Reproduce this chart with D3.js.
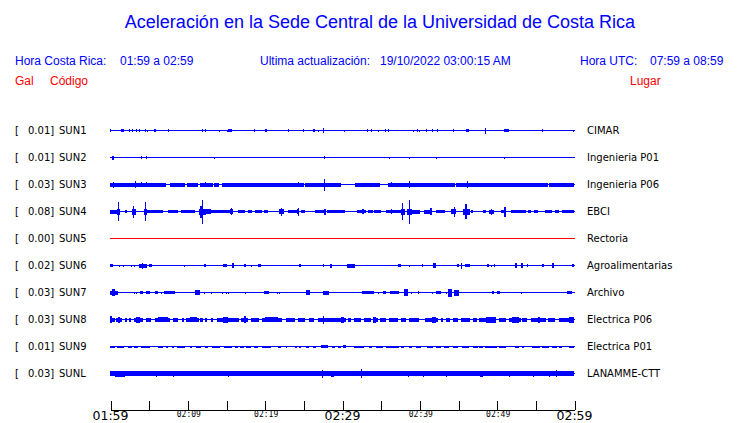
<!DOCTYPE html>
<html><head><meta charset="utf-8">
<script src="https://cdn.jsdelivr.net/npm/d3@7"></script>
<style>
html,body{margin:0;padding:0;background:#fff;}
svg{display:block;}
</style></head>
<body>
<svg id="chart" width="740" height="423"></svg>
<script>
// ---------------- DATA ----------------
const title = "Aceleración en la Sede Central de la Universidad de Costa Rica";
const localRange = "01:59 a 02:59";
const utcRange = "07:59 a 08:59";
const updated = "19/10/2022 03:00:15 AM";

const codes = ["SUN1","SUN2","SUN3","SUN4","SUN5","SUN6","SUN7","SUN8","SUN9","SUNL"];
const places = ["CIMAR","Ingenieria P01","Ingenieria P06","EBCI","Rectoria","Agroalimentarias","Archivo","Electrica P06","Electrica P01","LANAMME-CTT"];
const peakGal = [0.01,0.01,0.03,0.08,0.00,0.02,0.03,0.03,0.01,0.03];

// time axis: minutes after 01:59
const tickMinutes = [0,5,10,15,20,25,30,35,40,45,50,55,60];
const majorLabels = [[0,"01:59"],[30,"02:29"],[60,"02:59"]];
const minorLabels = [[10,"02:09"],[20,"02:19"],[40,"02:39"],[50,"02:49"]];

// waveform envelopes: [start minute, end minute, half amplitude]
const sun1 = [[0.05,0.15,1.5],[1.4,1.8,1.5],[2.5,2.6,1.5],[2.9,3.0,1.5],[3.3,3.4,1.5],[3.7,3.8,1.5],[4.5,4.6,1.5],[4.8,4.9,1],[5.7,5.9,1.5],[7.5,7.6,1.5],[11.9,12.0,1.5],[12.3,12.4,1.5],[14.1,14.2,1],[15.1,15.2,1],[15.3,15.8,1.5],[18.6,18.7,1.5],[20.1,20.4,1.5],[23.0,23.1,1.5],[24.9,25.0,1.5],[26.2,26.5,1.5],[26.9,27.0,1],[27.6,27.7,2.5],[30.3,30.4,1],[33.2,33.3,1.5],[33.7,33.8,1.5],[34.6,34.7,1],[35.6,35.7,1.5],[35.9,36.0,1.5],[39.2,39.3,1],[39.7,39.8,1.5],[39.9,40.0,1],[40.8,40.9,1.5],[41.7,41.8,1.5],[42.3,42.4,1.5],[44.4,44.5,1.5],[46.0,46.4,1.5],[48.5,48.6,3],[50.9,51.6,1.5],[55.9,56.0,1.5],[59.9,60,1]];
const sun2 = [[0.2,0.4,2],[4.0,4.1,1.5],[4.6,4.7,1.5],[13.5,13.6,1],[27.7,27.8,1.5],[36.1,36.2,1],[38.7,38.8,1],[42.1,42.2,1],[51.0,51.1,1]];
const sun3 = [[0,7.2,2],[7.7,9.6,2],[10.0,11.4,2],[11.6,13.3,2],[13.5,14.2,2],[14.5,25.1,2],[25.2,29.9,2],[31.7,34.9,2],[35.9,44.6,2],[44.7,56.6,2],[56.8,60,2],[0.35,0.5,3],[3.25,3.35,3.5],[4.0,4.1,2.5],[4.7,4.8,2.5],[12.3,12.4,2.5],[24.3,24.4,2.5],[27.65,27.75,6],[36.4,36.5,2.5],[38.7,38.8,3.5],[46.1,46.2,3.5]];
const sun4 = [[0.0,1.3,2],[0.9,1.3,3],[1.0,1.15,9.5],[2.0,2.3,1.5],[2.8,3.3,3],[2.95,3.1,6],[4.4,4.8,3],[4.5,4.65,9.5],[4.8,6.9,1.5],[7.5,8.8,1.5],[9.2,11.0,1.5],[11.5,12.4,3],[11.7,12.1,6],[11.85,12.0,12],[12.4,13.1,2.5],[13.1,15.5,1.5],[15.5,15.9,2.5],[15.65,15.75,3.5],[16.5,17.4,1.5],[17.8,18.3,1.5],[18.7,19.6,1.5],[19.9,20.4,1.5],[21.9,22.6,2.5],[22.1,22.2,4],[23.0,24.1,1.5],[24.2,24.5,2.5],[24.3,24.4,4],[24.7,25.2,1.5],[26.5,27.7,1.5],[27.7,27.9,3],[28.0,30.3,1.5],[32.0,33.1,1.5],[32.6,32.8,2.5],[33.3,34.0,1.5],[34.2,35.1,1.5],[35.7,37.6,1.5],[36.3,36.4,2.5],[37.6,38.1,3],[37.8,37.9,8.5],[38.4,39.0,3],[38.6,38.7,12],[39.0,40.0,2],[40.6,41.5,2],[41.4,41.6,3.5],[42.2,43.4,1.5],[44.1,44.7,2.5],[44.5,44.6,5],[45.6,46.5,3],[45.9,46.1,7.5],[46.7,46.9,1.5],[48.2,48.6,1.5],[49.0,49.7,2],[49.3,49.4,3],[50.5,51.0,1.5],[50.9,51.1,5],[51.8,53.8,1.5],[54.0,54.4,1.5],[54.8,55.3,1.5],[56.3,57.2,1.5],[57.6,58.1,1.5],[58.5,60,1.5]];
const sun5 = [];
const sun6 = [[0,0.4,1.5],[1.1,1.2,1],[1.7,1.8,1],[2.7,2.8,1],[3.1,3.2,1],[3.7,4.7,2],[4.1,4.2,3],[5.0,5.4,1.5],[9.6,9.7,1],[12.2,12.4,1.5],[14.6,15.1,1.5],[15.8,16.0,2.5],[17.3,17.6,1.5],[18.2,18.3,1],[19.2,19.6,1.5],[24.4,24.7,1.5],[27.6,27.7,1.5],[28.4,28.7,2],[30.6,31.6,2],[37.2,37.6,1.5],[38.7,38.8,1.2],[40.3,40.4,1.5],[41.8,42.2,2.5],[44.9,45.2,1.5],[45.4,45.5,3],[45.9,46.5,1.5],[48.7,48.9,1.5],[49.3,49.4,1],[49.7,49.8,1.5],[52.4,52.6,2.5],[53.1,53.3,2.5],[53.9,54.0,1.5],[55.8,56.1,1.5],[57.2,57.4,2.5],[59.7,60,1.5]];
const sun7 = [[0,1.0,2],[0.3,0.7,3.5],[3.1,3.2,1],[3.4,3.5,1],[3.9,4.3,1.5],[4.7,5.2,1.5],[5.8,6.2,1.5],[6.6,6.7,1],[7.0,8.4,1.5],[11.0,11.6,2.5],[12.2,12.3,1],[13.0,13.1,1],[14.5,14.6,1],[15.0,15.1,1],[15.3,15.4,1],[17.4,17.5,1],[19.9,20.6,1.5],[21.6,21.7,1],[21.9,22.0,1],[25.4,25.9,2.5],[27.5,28.3,2],[32.6,34.2,1.5],[34.7,34.8,1],[35.3,35.7,1.5],[36.2,37.4,1.5],[38.0,38.5,3.5],[38.9,39.0,1],[39.8,39.9,1.5],[41.6,41.7,1],[42.1,42.7,1.5],[43.4,43.5,1],[43.7,44.2,4],[44.5,45.1,3],[49.4,49.6,1.5],[50.1,50.5,1.5],[53.1,53.2,1],[59.1,59.8,1.5]];
const sun8 = [[0,0.6,2],[0.8,1.6,2],[1.9,2.2,2],[2.5,2.8,2],[3.1,4.2,2],[4.6,5.2,2],[5.8,7.7,2],[8.2,8.9,2],[9.3,9.6,2],[9.8,11.5,2],[11.7,12.1,2],[12.3,12.5,2],[13.0,13.2,2],[13.9,16.8,2],[17.0,17.9,2],[18.2,19.2,2],[19.6,22.2,2],[22.8,24.0,2],[24.3,25.2,2],[25.7,26.4,2],[26.9,30.5,2],[30.8,31.2,2],[31.6,32.5,2],[32.9,33.8,2],[34.0,34.6,2],[34.9,35.7,2],[36.1,37.2,2],[37.6,38.3,2],[38.7,40.0,2],[40.7,42.4,2],[42.8,43.0,2],[43.4,43.9,2],[44.3,45.0,2],[45.4,46.5,2],[46.9,47.4,2],[47.7,49.9,2],[50.3,51.2,2],[51.6,53.1,2],[53.3,54.0,2],[54.4,56.3,2],[56.7,57.6,2],[58.1,60,2],[0.05,0.25,3.5],[1.0,1.2,3],[3.4,3.9,3],[6.2,7.5,2.5],[10.3,11.2,2.5],[14.6,15.3,3],[17.3,17.5,3.5],[20.0,21.7,2.5],[27.6,27.75,4],[29.9,30.3,3],[34.0,34.4,3],[41.7,42.2,3],[48.6,49.9,3],[52.0,52.9,3],[55.4,55.6,3],[59.4,60,3]];
const sun9 = [[0,0.65,1],[0.86,1.72,1],[2.28,2.8,1],[3.14,3.66,1],[4.0,5.16,1],[6.24,6.88,1],[7.3,7.6,1],[7.96,8.17,1],[8.6,9.68,1],[10.3,10.6,1],[11.18,11.83,1],[12.26,12.69,1],[13.2,14.19,1],[14.7,15.7,1],[16.13,16.56,1],[16.86,17.33,1],[17.63,18.28,1],[18.58,19.14,1],[19.7,20.86,1],[21.72,22.15,1],[22.8,22.9,1],[23.87,24.1,1],[24.43,24.73,1],[25.38,25.8,1],[26.24,26.67,1],[27.3,28.17,1.5],[28.73,29.16,1],[29.46,29.9,1],[30.1,30.54,1.5],[31.6,32.9,1],[33.55,33.98,1],[34.4,35.27,1],[35.7,37.42,1],[37.63,38.06,1],[38.7,39.14,1],[39.57,40.2,1],[40.95,41.72,1],[42.15,42.8,1],[43.2,43.87,1],[44.3,44.95,1],[45.5,46.45,1],[46.88,47.53,1],[47.74,48.26,1],[48.5,50.1,1],[50.3,51.18,1],[52.39,52.9,1],[53.33,53.55,1],[54.62,55.7,1],[55.91,56.77,1],[57.2,57.85,1],[58.06,58.5,1],[59.35,60,1]];
const sunL = [[0,60,2.5],[0.65,1.95,3],[5.95,6.05,3],[8.15,8.25,3],[15.3,15.4,3],[27.45,27.55,4],[28.6,29.0,3],[32.4,32.5,4.5],[38.55,38.65,3],[40.45,40.55,3],[43.45,43.55,3],[47.9,48.3,3],[51.55,51.65,3],[54.75,54.85,3],[56.75,56.85,3],[57.65,57.75,3.5]];
const traces = [sun1,sun2,sun3,sun4,sun5,sun6,sun7,sun8,sun9,sunL];

// ---------------- DRAW ----------------
const svg = d3.select("#chart");
const BLUE = "#0000ff", RED = "#ff0000";
const HEAD = "'Liberation Sans', Arial, sans-serif";
const BODY = "'DejaVu Sans', sans-serif";

const x = d3.scaleLinear().domain([0,60]).range([110.5,574.5]);
const row = d3.scalePoint().domain(codes).range([130.5,373.5]);
const amp = d3.scaleLinear().domain([0,13.5]).range([0,13.5]);

// header
svg.append("text").attr("x",380).attr("y",28).attr("text-anchor","middle")
  .attr("font-family",HEAD).attr("font-size",18).attr("fill",BLUE).text(title);
const hdr = [
  [15,65,"Hora Costa Rica:",BLUE],[120,65,localRange,BLUE],
  [260,65,"Ultima actualización:",BLUE],[380,65,updated,BLUE],
  [580,65,"Hora UTC:",BLUE],[650,65,utcRange,BLUE],
  [15,85,"Gal",RED],[50,85,"Código",RED],[630,85,"Lugar",RED]
];
svg.append("g").selectAll("text").data(hdr).join("text")
  .attr("x",d=>d[0]).attr("y",d=>d[1]).attr("fill",d=>d[3])
  .attr("font-family",HEAD).attr("font-size",12).text(d=>d[2]);

// rows
const rows = svg.append("g").selectAll("g").data(codes).join("g")
  .attr("transform",d=>`translate(0,${row(d)})`);

rows.append("text").attr("x",15).attr("dy","0.35em").attr("font-family",BODY).attr("font-size",10)
  .attr("fill","#000").text("[");
rows.append("text").attr("x",28).attr("dy","0.35em").attr("font-family",BODY).attr("font-size",10)
  .attr("fill","#000").text((d,i)=>peakGal[i].toFixed(2)+"]");
rows.append("text").attr("x",59).attr("dy","0.35em").attr("font-family",BODY).attr("font-size",10)
  .attr("fill","#000").text(d=>d);
rows.append("text").attr("x",587).attr("dy","0.35em").attr("font-family",BODY).attr("font-size",10)
  .attr("fill","#000").text((d,i)=>places[i]);

const colorOf = i => peakGal[i] === 0 ? RED : BLUE;
rows.append("line").attr("x1",x(0)-0.5).attr("x2",x(60)+0.5).attr("y1",0).attr("y2",0)
  .attr("stroke",(d,i)=>colorOf(i)).attr("stroke-width",1).attr("shape-rendering","crispEdges");

const hOf = a => Math.max(1, Math.round(2*amp(a)));
rows.each(function(code,i){
  d3.select(this).append("g").attr("fill",colorOf(i)).attr("shape-rendering","crispEdges")
    .selectAll("rect").data(traces[i]).join("rect")
    .attr("x",d=>Math.round(x(d[0])-0.5))
    .attr("width",d=>Math.max(1,Math.round(x(d[1])-x(d[0]))))
    .attr("y",d=>-0.5-Math.floor((hOf(d[2])-1)/2))
    .attr("height",d=>hOf(d[2]));
});

// axis
const axisG = svg.append("g").attr("transform","translate(0,409.5)")
  .call(d3.axisTop(x).tickValues(tickMinutes).tickSize(9).tickSizeOuter(0).tickFormat(""));
axisG.select(".domain").attr("stroke","#000").attr("shape-rendering","crispEdges");
axisG.selectAll(".tick line").attr("stroke","#000").attr("shape-rendering","crispEdges");

svg.append("g").selectAll("text").data(majorLabels).join("text")
  .attr("x",d=>x(d[0])).attr("y",420).attr("text-anchor","middle")
  .attr("font-family",BODY).attr("font-size",12.5).attr("fill","#000").text(d=>d[1]);
svg.append("g").selectAll("text").data(minorLabels).join("text")
  .attr("x",d=>x(d[0])+1).attr("y",417).attr("text-anchor","middle")
  .attr("font-family","'DejaVu Sans Mono', monospace").attr("font-size",8).attr("fill","#000").text(d=>d[1]);
</script>
</body></html>
